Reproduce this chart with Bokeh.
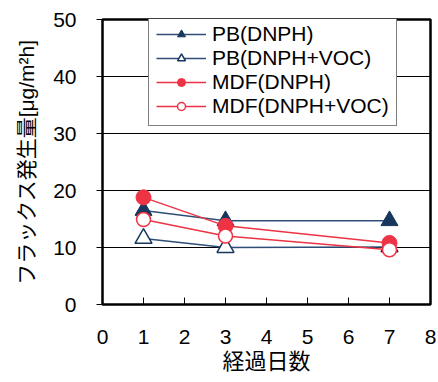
from bokeh.plotting import figure
from bokeh.models import Range1d, Legend, LegendItem, FixedTicker
from bokeh.embed import file_html
from bokeh.resources import INLINE

days = [1, 3, 7]
pb_dnph = [16.5, 14.7, 14.7]
pb_dnph_voc = [11.6, 10.0, 10.1]
mdf_dnph = [18.8, 13.8, 10.8]
mdf_dnph_voc = [14.9, 12.0, 9.6]
labels = ["PB(DNPH)", "PB(DNPH+VOC)", "MDF(DNPH)", "MDF(DNPH+VOC)"]
x_ticks = [0, 1, 2, 3, 4, 5, 6, 7, 8]
y_ticks = [0, 10, 20, 30, 40, 50]

NAVY = "#17375E"
NAVY_LINE = "#2E4E78"
RED = "#EE3344"
LATIN = "Liberation Sans"
MIXED = "Liberation Sans, Noto Sans CJK JP"

p = figure(width=438, height=382, output_backend="svg", toolbar_location=None,
           x_range=Range1d(0, 8), y_range=Range1d(0, 50),
           min_border_left=102, min_border_right=8, min_border_top=19, min_border_bottom=78)
p.background_fill_color = "white"
p.border_fill_color = "white"
p.outline_line_color = "black"
p.outline_line_width = 2.5

p.xgrid.visible = False
p.ygrid.ticker = FixedTicker(ticks=y_ticks)
p.ygrid.grid_line_color = "black"
p.ygrid.grid_line_width = 1

p.xaxis.ticker = FixedTicker(ticks=x_ticks)
p.yaxis.ticker = FixedTicker(ticks=y_ticks)
for ax in (p.xaxis[0], p.yaxis[0]):
    ax.axis_line_color = None
    ax.minor_tick_line_color = None
    ax.major_tick_line_color = "black"
    ax.major_tick_line_width = 1
    ax.major_label_text_font = LATIN
    ax.major_label_text_font_size = "21px"
    ax.major_label_text_color = "black"
    ax.axis_label_text_font = MIXED
    ax.axis_label_text_font_style = "normal"
    ax.axis_label_text_color = "black"

p.xaxis.major_tick_in = 7
p.xaxis.major_tick_out = 0
p.xaxis.major_label_standoff = 25
p.xaxis.axis_label = "経過日数"
p.xaxis.axis_label_text_font_size = "22px"
p.xaxis.axis_label_standoff = 2

p.yaxis.major_tick_in = 0
p.yaxis.major_tick_out = 6
p.yaxis.major_label_standoff = 20
p.yaxis.axis_label = "フラックス発生量[μg/m²h]"
p.yaxis.axis_label_text_font_size = "21px"
p.yaxis.axis_label_standoff = 12

r1l = p.line(days, pb_dnph, line_color=NAVY_LINE, line_width=1.5)
r1m = p.scatter(days, pb_dnph, marker="triangle", size=17, fill_color=NAVY, line_color=NAVY, line_width=1)
r2l = p.line(days, pb_dnph_voc, line_color=NAVY_LINE, line_width=1.5)
r2m = p.scatter(days, pb_dnph_voc, marker="triangle", size=17, fill_color="white", line_color=NAVY, line_width=1.5)
r3l = p.line(days, mdf_dnph, line_color=RED, line_width=1.5)
r3m = p.scatter(days, mdf_dnph, marker="circle", size=15, fill_color=RED, line_color=RED, line_width=1)
r4l = p.line(days, mdf_dnph_voc, line_color=RED, line_width=1.5)
r4m = p.scatter(days, mdf_dnph_voc, marker="circle", size=14, fill_color="white", line_color=RED, line_width=1.5)

items = [LegendItem(label=labels[0], renderers=[r1l, r1m]),
         LegendItem(label=labels[1], renderers=[r2l, r2m]),
         LegendItem(label=labels[2], renderers=[r3l, r3m]),
         LegendItem(label=labels[3], renderers=[r4l, r4m])]
legend = Legend(items=items, location=(46, 178), orientation="vertical",
                label_text_font=LATIN, label_text_font_size="21px",
                label_text_color="black", label_standoff=6,
                glyph_width=50, glyph_height=20, label_height=20,
                spacing=0, padding=7, margin=0,
                border_line_color="black", border_line_width=1,
                background_fill_color="white", background_fill_alpha=1.0)
p.add_layout(legend, "center")

open("out.html", "w").write(file_html(p, INLINE))
